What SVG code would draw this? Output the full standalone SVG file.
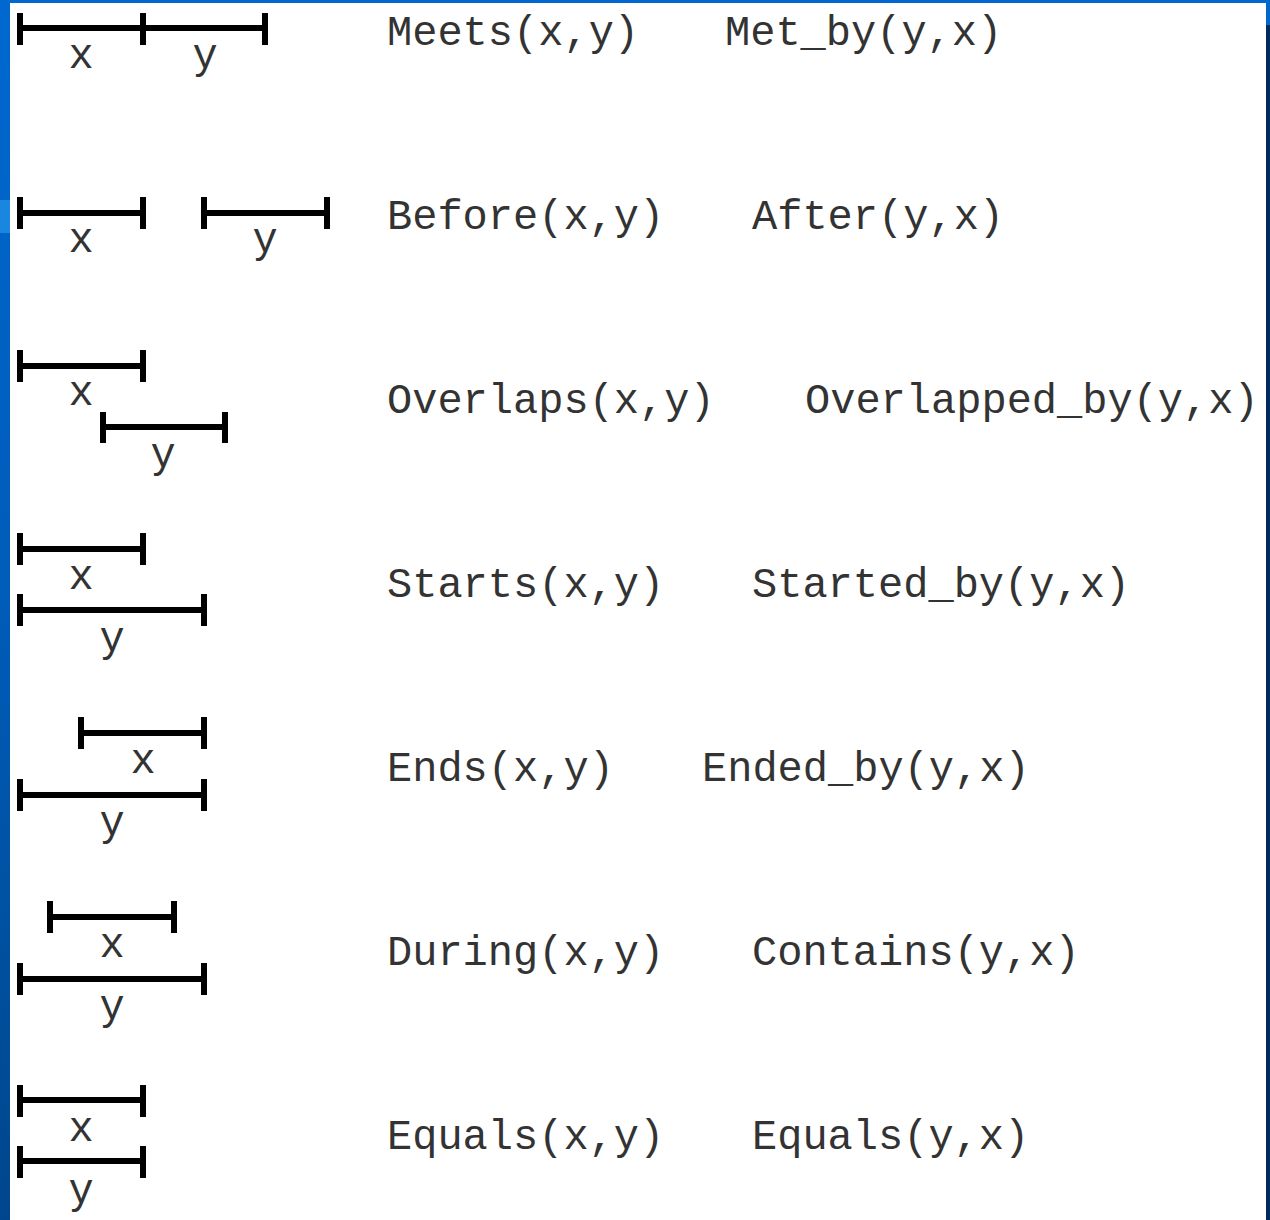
<svg xmlns="http://www.w3.org/2000/svg" width="1270" height="1220" viewBox="0 0 1270 1220">
  <defs>
    <linearGradient id="leftBar" x1="0" y1="0" x2="0" y2="1">
      <stop offset="0" stop-color="#0068cf"/>
      <stop offset="0.5" stop-color="#005cb8"/>
      <stop offset="1" stop-color="#00468c"/>
    </linearGradient>
    <style>
      .bar { stroke: #000; stroke-width: 6; fill: none; stroke-linecap: butt; }
      .lbl { font-family: "Liberation Mono", "Courier New", monospace; font-size: 42px; fill: #333; }
      .var { font-family: "Liberation Mono", "Courier New", monospace; font-size: 42px; fill: #333; text-anchor: middle; }
    </style>
  </defs>
  <rect x="0" y="0" width="1270" height="1220" fill="#ffffff"/>
  <g id="frame">
    <rect x="0" y="0" width="10" height="1220" fill="url(#leftBar)"/>
    <rect x="0" y="200" width="10" height="33" fill="#1a86e0"/>
    <rect x="0" y="0" width="1270" height="3" fill="#0068cf"/>
    <rect x="1266" y="0" width="4" height="25" fill="#0068cf"/>
    <rect x="1266" y="25" width="4" height="1195" fill="#002a5c"/>
  </g>

  <g id="connectors"></g>

  <g id="row-meets">
    <path class="bar" d="M20 28H265M20 13V45M143 13V45M265 13V45"/>
    <text class="var" x="81" y="68">x</text>
    <text class="var" x="205" y="68">y</text>
    <text class="lbl" x="387" y="45">Meets(x,y)</text>
    <text class="lbl" x="725" y="45">Met_by(y,x)</text>
  </g>

  <g id="row-before">
    <path class="bar" d="M20 213H143M20 197V229M143 197V229M204 213H327M204 197V229M327 197V229"/>
    <text class="var" x="81" y="252">x</text>
    <text class="var" x="265" y="252">y</text>
    <text class="lbl" x="387" y="229">Before(x,y)</text>
    <text class="lbl" x="752" y="229">After(y,x)</text>
  </g>

  <g id="row-overlaps">
    <path class="bar" d="M20 366H143M20 350V382M143 350V382M103 427H225M103 412V443M225 412V443"/>
    <text class="var" x="81" y="405">x</text>
    <text class="var" x="163" y="467">y</text>
    <text class="lbl" x="387" y="413">Overlaps(x,y)</text>
    <text class="lbl" x="805" y="413">Overlapped_by(y,x)</text>
  </g>

  <g id="row-starts">
    <path class="bar" d="M20 549H143M20 533V565M143 533V565M20 610H204M20 594V626M204 594V626"/>
    <text class="var" x="81" y="589">x</text>
    <text class="var" x="112" y="651">y</text>
    <text class="lbl" x="387" y="597">Starts(x,y)</text>
    <text class="lbl" x="752" y="597">Started_by(y,x)</text>
  </g>

  <g id="row-ends">
    <path class="bar" d="M81 733H204M81 717V749M204 717V749M20 795H204M20 779V811M204 779V811"/>
    <text class="var" x="143" y="773">x</text>
    <text class="var" x="112" y="835">y</text>
    <text class="lbl" x="387" y="781">Ends(x,y)</text>
    <text class="lbl" x="702" y="781">Ended_by(y,x)</text>
  </g>

  <g id="row-during">
    <path class="bar" d="M50 917H174M50 901V933M174 901V933M20 979H204M20 963V995M204 963V995"/>
    <text class="var" x="112" y="957">x</text>
    <text class="var" x="112" y="1019">y</text>
    <text class="lbl" x="387" y="965">During(x,y)</text>
    <text class="lbl" x="752" y="965">Contains(y,x)</text>
  </g>

  <g id="row-equals">
    <path class="bar" d="M20 1100H143M20 1085V1117M143 1085V1117M20 1161H143M20 1146V1178M143 1146V1178"/>
    <text class="var" x="81" y="1141">x</text>
    <text class="var" x="81" y="1203">y</text>
    <text class="lbl" x="387" y="1149">Equals(x,y)</text>
    <text class="lbl" x="752" y="1149">Equals(y,x)</text>
  </g>
</svg>
